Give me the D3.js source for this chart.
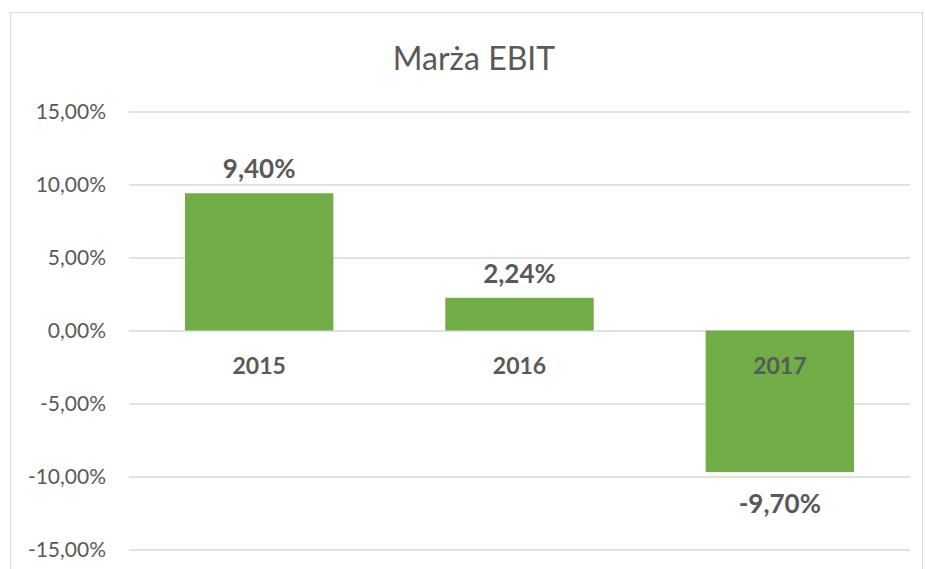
<!DOCTYPE html>
<html>
<head>
<meta charset="utf-8">
<script src="https://cdn.jsdelivr.net/npm/d3@7"></script>
<style>
  body { margin: 0; background: #fff; }
  svg text { font-family: Lato, "Liberation Sans", sans-serif; fill: #595959; }
</style>
</head>
<body>
<div id="chartDiv"></div>
<script>
var years = ["2015", "2016", "2017"];
var margins = [9.40, 2.24, -9.70];   // Marża EBIT, %
var yTicks = [15, 10, 5, 0, -5, -10, -15];
var title = "Marża EBIT";

var width = 925,
    height = 569;

var svg = d3.select("#chartDiv")
    .append("svg")
    .attr("width", width)
    .attr("height", height);

// chart frame
svg.append("rect")
    .attr("x", 10.5)
    .attr("y", 12.5)
    .attr("width", 912)
    .attr("height", 600)
    .attr("fill", "#fff")
    .attr("stroke", "#d9d9d9");

var x = d3.scaleBand()
    .domain(years)
    .range([129, 910])
    .paddingInner(0.43)
    .paddingOuter(0.215);

var y = d3.scaleLinear()
    .domain([-15, 15])
    .range([549.5, 111.5]);

var fmt = function (v) {
    return d3.format(".2f")(v).replace(".", ",").replace("−", "-") + "%";
};

// gridlines + y labels
var yAxis = d3.axisLeft(y)
    .tickValues(yTicks)
    .tickSize(-(910 - 129))
    .tickPadding(23)
    .tickFormat(fmt);

var gy = svg.append("g")
    .attr("transform", "translate(129,0)")
    .call(yAxis);
gy.select(".domain").remove();
gy.selectAll(".tick line")
    .attr("stroke", "#d9d9d9")
    .attr("stroke-width", 1.3);
gy.selectAll(".tick text")
    .style("font-size", "21px")
    .attr("fill", "#595959");

// bars
svg.append("g")
    .selectAll("rect")
    .data(margins)
    .enter().append("rect")
    .attr("x", function (d, i) { return x(years[i]); })
    .attr("width", x.bandwidth())
    .attr("y", function (d) { return y(Math.max(0, d)); })
    .attr("height", function (d) { return Math.abs(y(d) - y(0)); })
    .attr("fill", "#70ad47");

// category labels next to the zero line
svg.append("g")
    .selectAll("text")
    .data(years)
    .enter().append("text")
    .attr("x", function (d) { return x(d) + x.bandwidth() / 2; })
    .attr("y", y(0) + 43)
    .attr("text-anchor", "middle")
    .style("font-size", "23px")
    .style("font-weight", "bold")
    .text(function (d) { return d; });

// value labels
svg.append("g")
    .selectAll("text")
    .data(margins)
    .enter().append("text")
    .attr("x", function (d, i) { return x(years[i]) + x.bandwidth() / 2; })
    .attr("y", function (d) { return d >= 0 ? y(d) - 15 : y(d) + 41; })
    .attr("text-anchor", "middle")
    .style("font-size", "26px")
    .style("font-weight", "bold")
    .text(fmt);

// title
svg.append("text")
    .attr("x", 474)
    .attr("y", 70)
    .attr("text-anchor", "middle")
    .style("font-size", "32px")
    .text(title);
</script>
</body>
</html>
